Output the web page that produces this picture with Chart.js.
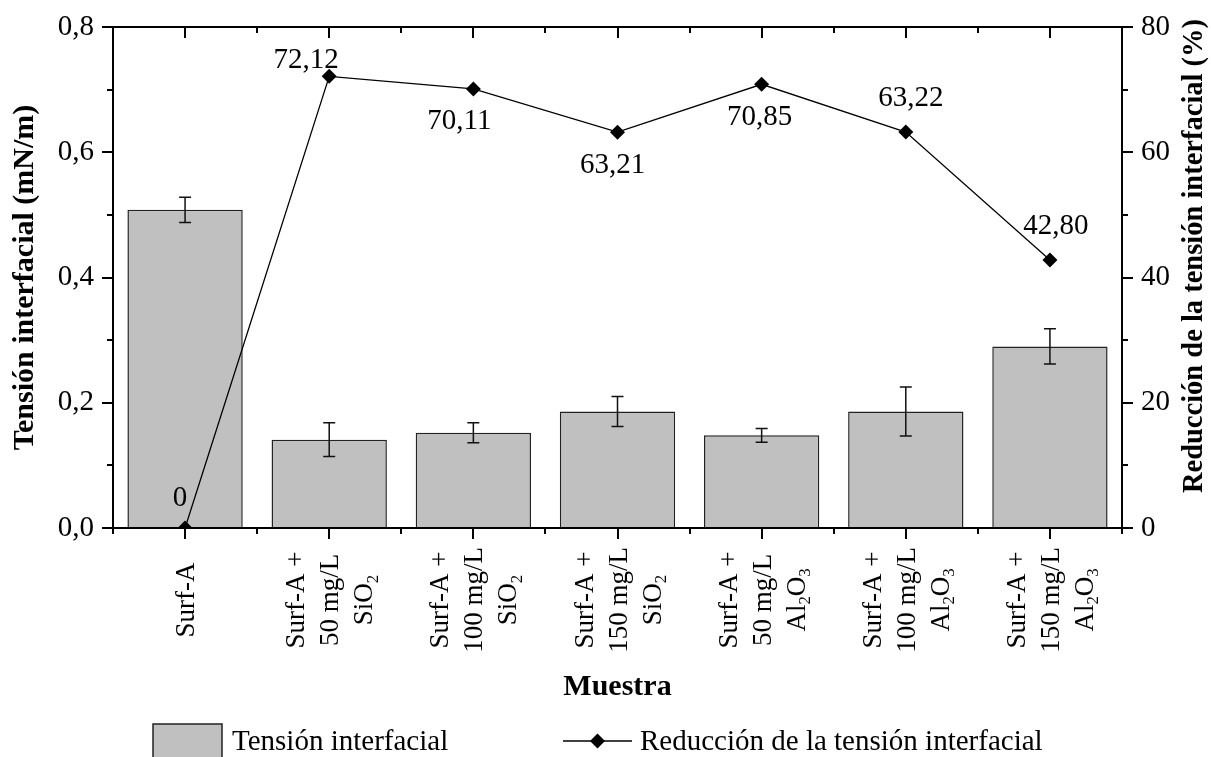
<!DOCTYPE html>
<html><head><meta charset="utf-8">
<script src="https://cdn.jsdelivr.net/npm/chart.js@4.4.0/dist/chart.umd.min.js"></script>
<style>html,body{margin:0;padding:0;background:#fff;} #c{display:block;}</style>
</head><body>
<canvas id="c" width="1211" height="757" style="width:1211px;height:757px"></canvas>
<script>
// ---------- data ----------
const categories = [
  ['Surf-A'],
  ['Surf-A +', '50 mg/L', 'SiO₂'],
  ['Surf-A +', '100 mg/L', 'SiO₂'],
  ['Surf-A +', '150 mg/L', 'SiO₂'],
  ['Surf-A +', '50 mg/L', 'Al₂O₃'],
  ['Surf-A +', '100 mg/L', 'Al₂O₃'],
  ['Surf-A +', '150 mg/L', 'Al₂O₃']
];
const tensionValues = [0.508, 0.141, 0.152, 0.186, 0.148, 0.186, 0.290];
const tensionErrors = [0.020, 0.027, 0.016, 0.024, 0.011, 0.039, 0.028];
const reductionValues = [0, 72.12, 70.11, 63.21, 70.85, 63.22, 42.80];
const reductionLabels = ['0', '72,12', '70,11', '63,21', '70,85', '63,22', '42,80'];
const leftTickLabels = ['0,0', '0,2', '0,4', '0,6', '0,8'];
const rightTickLabels = ['0', '20', '40', '60', '80'];

// ---------- styles ----------
const SERIF = "'Liberation Serif', 'Times New Roman', serif";
const labelOffsets = [[-5, -30], [-23, -16], [-14, 32], [-5, 33], [-2, 33], [5, -34], [6, -34]];
const AXW = 2;

const SUBS = {'₀':'0','₁':'1','₂':'2','₃':'3','₄':'4','₅':'5','₆':'6','₇':'7','₈':'8','₉':'9'};
function drawRichLine(ctx, text, x, y, size) {
  const segs = [];
  for (const ch of text) {
    const sub = SUBS[ch] !== undefined;
    const c = sub ? SUBS[ch] : ch;
    if (segs.length && segs[segs.length - 1].sub === sub) segs[segs.length - 1].t += c;
    else segs.push({t: c, sub});
  }
  let total = 0;
  segs.forEach(s => {
    ctx.font = (s.sub ? size * 0.62 : size) + 'px ' + SERIF;
    s.w = ctx.measureText(s.t).width; total += s.w;
  });
  let cx = x - total / 2;
  ctx.textAlign = 'left';
  segs.forEach(s => {
    ctx.font = (s.sub ? size * 0.62 : size) + 'px ' + SERIF;
    ctx.fillText(s.t, cx, y + (s.sub ? size * 0.2 : 0));
    cx += s.w;
  });
}

function drawDiamond(ctx, x, y, r) {
  ctx.beginPath();
  ctx.moveTo(x - r, y); ctx.lineTo(x, y - r); ctx.lineTo(x + r, y); ctx.lineTo(x, y + r);
  ctx.closePath(); ctx.fill();
}

const errorBarPlugin = {
  id: 'errorBars',
  afterDatasetDraw(chart, args) {
    const ds = chart.data.datasets[args.index];
    if (ds.type !== 'bar') return;
    const ctx = chart.ctx, y = chart.scales.y;
    ctx.save();
    ctx.strokeStyle = '#111'; ctx.lineWidth = 1.5;
    args.meta.data.forEach((bar, i) => {
      const v = ds.data[i], e = tensionErrors[i];
      const yt = y.getPixelForValue(v + e), yb = y.getPixelForValue(v - e);
      ctx.beginPath();
      ctx.moveTo(bar.x, yt); ctx.lineTo(bar.x, yb);
      ctx.moveTo(bar.x - 6, yt); ctx.lineTo(bar.x + 6, yt);
      ctx.moveTo(bar.x - 6, yb); ctx.lineTo(bar.x + 6, yb);
      ctx.stroke();
    });
    ctx.restore();
  }
};

const pointLabelPlugin = {
  id: 'pointLabels',
  afterDatasetsDraw(chart) {
    const ctx = chart.ctx;
    const idx = chart.data.datasets.findIndex(d => d.type === 'line');
    const meta = chart.getDatasetMeta(idx);
    ctx.save();
    ctx.fillStyle = '#000';
    ctx.font = '29px ' + SERIF;
    ctx.textAlign = 'center'; ctx.textBaseline = 'middle';
    meta.data.forEach((pt, i) => {
      const o = labelOffsets[i];
      ctx.fillText(reductionLabels[i], pt.x + o[0], pt.y + o[1]);
    });
    ctx.restore();
  }
};

const decorPlugin = {
  id: 'decor',
  afterDraw(chart) {
    const ctx = chart.ctx, a = chart.chartArea;
    const x = chart.scales.x, y = chart.scales.y, y1 = chart.scales.y1;
    ctx.save();
    ctx.strokeStyle = '#000'; ctx.lineWidth = AXW;
    // top frame
    ctx.beginPath(); ctx.moveTo(a.left - 1, a.top); ctx.lineTo(a.right + 1, a.top); ctx.stroke();
    ctx.beginPath();
    // minor ticks left / right
    [0.1, 0.3, 0.5, 0.7].forEach(v => { const p = Math.round(y.getPixelForValue(v)); ctx.moveTo(a.left - 6, p); ctx.lineTo(a.left, p); });
    [10, 30, 50, 70].forEach(v => { const p = Math.round(y1.getPixelForValue(v)); ctx.moveTo(a.right, p); ctx.lineTo(a.right + 6, p); });
    // x minor ticks at category boundaries (bottom outward, top inward) + top majors inward
    const n = chart.data.labels.length;
    for (let k = 0; k <= n; k++) {
      let p;
      if (k === 0) p = a.left; else if (k === n) p = a.right;
      else p = (x.getPixelForValue(k - 1) + x.getPixelForValue(k)) / 2;
      p = Math.round(p);
      ctx.moveTo(p, a.bottom); ctx.lineTo(p, a.bottom + 6);
      if (k > 0 && k < n) { ctx.moveTo(p, a.top); ctx.lineTo(p, a.top + 6); }
    }
    for (let i = 0; i < n; i++) {
      const p = Math.round(x.getPixelForValue(i));
      ctx.moveTo(p, a.top); ctx.lineTo(p, a.top + 11);
    }
    ctx.stroke();

    // x category labels (rotated, centered, with subscripts)
    ctx.fillStyle = '#000';
    ctx.textBaseline = 'alphabetic';
    chart.data.labels.forEach((lines, i) => {
      const px = x.getPixelForValue(i);
      ctx.save();
      ctx.translate(px, 600);
      ctx.rotate(-Math.PI / 2);
      const m = lines.length;
      lines.forEach((ln, j) => drawRichLine(ctx, ln, 0, 9 + (j - (m - 1) / 2) * 34, 27));
      ctx.restore();
    });

    // right axis title (reads bottom to top)
    const t = y1.options.title;
    ctx.save();
    ctx.translate(1195, 256);
    ctx.rotate(-Math.PI / 2);
    ctx.font = 'bold 28.5px ' + SERIF;
    ctx.textAlign = 'center'; ctx.textBaseline = 'middle';
    ctx.fillText(t.text, 0, 0);
    ctx.restore();

    // legend
    const dsBar = chart.data.datasets.find(d => d.type === 'bar');
    const dsLine = chart.data.datasets.find(d => d.type === 'line');
    ctx.fillStyle = dsBar.backgroundColor;
    ctx.fillRect(153, 724, 69, 40);
    ctx.strokeStyle = '#222'; ctx.lineWidth = 1.5;
    ctx.strokeRect(153, 724, 69, 40);
    ctx.fillStyle = '#000';
    ctx.font = '29px ' + SERIF;
    ctx.textAlign = 'left'; ctx.textBaseline = 'alphabetic';
    ctx.fillText(dsBar.label, 232, 750);
    ctx.strokeStyle = '#000'; ctx.lineWidth = 1.3;
    ctx.beginPath(); ctx.moveTo(563, 741); ctx.lineTo(632, 741); ctx.stroke();
    drawDiamond(ctx, 597.5, 741, 7.5);
    ctx.fillText(dsLine.label, 640, 750);
    ctx.restore();
  }
};

const tickFont = {family: SERIF, size: 29};

new Chart(document.getElementById('c'), {
  data: {
    labels: categories,
    datasets: [
      {
        type: 'line', label: 'Reducción de la tensión interfacial', data: reductionValues,
        yAxisID: 'y1', order: 0,
        borderColor: '#000', borderWidth: 1.3, backgroundColor: '#000',
        pointStyle: 'rectRot', pointRadius: 7.5, pointBorderWidth: 0, pointBackgroundColor: '#000',
        tension: 0, fill: false
      },
      {
        type: 'bar', label: 'Tensión interfacial', data: tensionValues,
        yAxisID: 'y', order: 1,
        backgroundColor: '#c0c0c0', borderColor: '#222', borderWidth: 1.5,
        barPercentage: 0.8, categoryPercentage: 1.0
      }
    ]
  },
  options: {
    responsive: false, animation: false, devicePixelRatio: 1,
    layout: {padding: {top: 27, bottom: 52, left: 0, right: 0}},
    plugins: {legend: {display: false}, tooltip: {enabled: false}},
    scales: {
      x: {
        offset: true,
        grid: {offset: false, drawOnChartArea: false, drawTicks: true, tickLength: 11, color: '#000', lineWidth: AXW},
        border: {display: true, color: '#000', width: AXW},
        ticks: {display: false},
        title: {display: true, text: 'Muestra', color: '#000', font: {family: SERIF, size: 30, weight: 'bold'}, padding: {top: 0, bottom: 0}},
        afterFit(s) { s.height = 177; }
      },
      y: {
        position: 'left', min: 0, max: 0.8,
        grid: {drawOnChartArea: false, drawTicks: true, tickLength: 11, color: '#000', lineWidth: AXW},
        border: {display: true, color: '#000', width: AXW},
        ticks: {stepSize: 0.2, color: '#000', font: tickFont, padding: 8,
          callback: (v) => leftTickLabels[Math.round(v / 0.2)]},
        title: {display: true, text: 'Tensión interfacial (mN/m)', color: '#000', font: {family: SERIF, size: 30, weight: 'bold'}, padding: {top: 7, bottom: 0}},
        afterFit(s) { s.width = 113; }
      },
      y1: {
        position: 'right', min: 0, max: 80,
        grid: {drawOnChartArea: false, drawTicks: true, tickLength: 11, color: '#000', lineWidth: AXW},
        border: {display: true, color: '#000', width: AXW},
        ticks: {stepSize: 20, color: '#000', font: tickFont, padding: 8,
          callback: (v) => rightTickLabels[Math.round(v / 20)]},
        title: {display: false, text: 'Reducción de la tensión interfacial (%)'},
        afterFit(s) { s.width = 89; }
      }
    }
  },
  plugins: [errorBarPlugin, pointLabelPlugin, decorPlugin]
});
</script>
</body></html>
